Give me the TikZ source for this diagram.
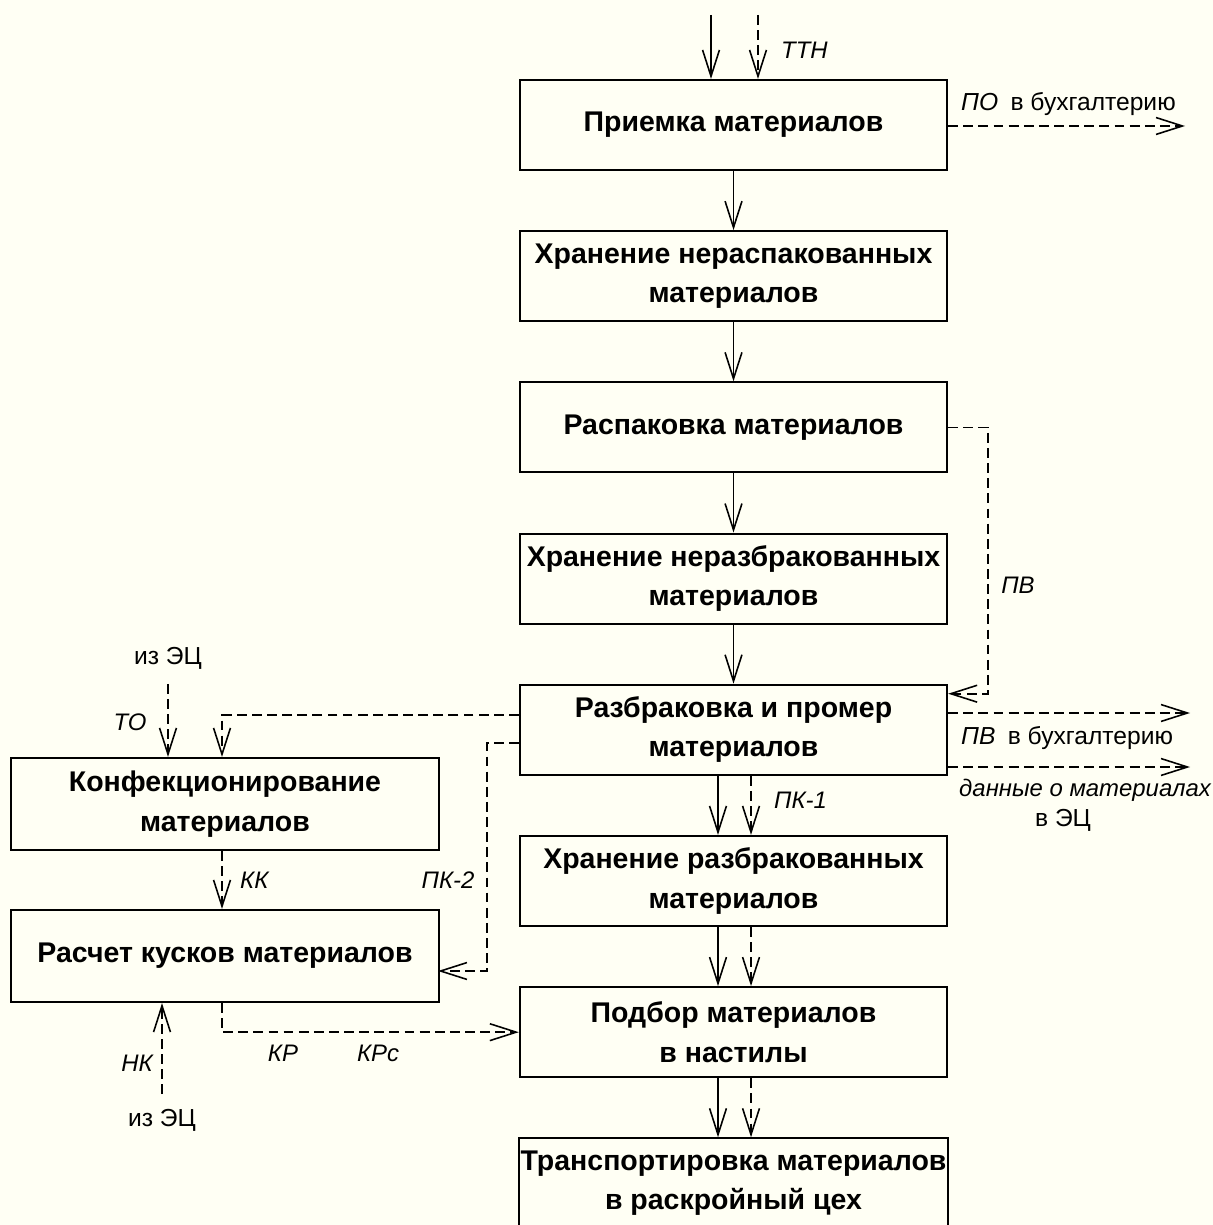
\documentclass[tikz,border=0pt]{standalone}
\usepackage{fontspec}
\setmainfont{Liberation Sans}
\usetikzlibrary{arrows.meta,positioning,calc}

\definecolor{bgcream}{RGB}{255,255,244}

\tikzset{
  proc/.style={draw,line width=0.6pt,minimum width=4.27cm,minimum height=0.9cm,
    align=center,inner sep=0.5pt,font=\fontsize{8.1}{11.2}\selectfont\bfseries},
  flow/.style={line width=0.45pt,-{Straight Barb[length=7.5pt,width=4.8pt]}},
  doc/.style={flow,dash pattern=on 2.8pt off 1.5pt},
  lbl/.style={inner sep=1pt,font=\fontsize{6.8}{8.4}\selectfont\itshape},
  txt/.style={inner sep=1pt,font=\fontsize{7}{8.4}\selectfont},
}

\begin{document}
\begin{tikzpicture}[x=0.01cm,y=-0.01cm]
  \fill[bgcream] (0,0) rectangle (1213,1225);
  \useasboundingbox (0,0) rectangle (1213,1225);
  % основная цепочка операций
  \node[proc] (priem) at (733.5,125) {Приемка материалов};
  \node[proc,below=0.59cm of priem] (hrNeraspak) {Хранение нераспакованных\\материалов};
  \node[proc,below=0.59cm of hrNeraspak] (raspak) {Распаковка материалов};
  \node[proc,below=0.59cm of raspak] (hrNerazbr) {Хранение неразбракованных\\материалов};
  \node[proc,below=0.59cm of hrNerazbr] (razbr) {Разбраковка и промер\\материалов};
  \node[proc,below=0.59cm of razbr] (hrRazbr) {Хранение разбракованных\\материалов};
  \node[proc,below=0.59cm of hrRazbr] (podbor) {Подбор материалов\\в настилы};
  \node[proc,below=0.59cm of podbor] (transp) {Транспортировка материалов\\в раскройный цех};
  % левая ветвь
  \node[proc,minimum height=0.92cm] (konf) at (225,804) {Конфекционирование\\материалов};
  \node[proc,minimum height=0.92cm] (raschet) at (225,956) {Расчет кусков материалов};

  \draw[flow] (priem) -- (hrNeraspak);
  \draw[flow] (hrNeraspak) -- (raspak);
  \draw[flow] (raspak) -- (hrNerazbr);
  \draw[flow] (hrNerazbr) -- (razbr);
  \foreach \a/\b in {razbr/hrRazbr,hrRazbr/podbor,podbor/transp}{
    \draw[flow] ([xshift=-0.155cm]\a.south) -- ([xshift=-0.155cm]\b.north);
    \draw[doc] ([xshift=0.175cm]\a.south) -- ([xshift=0.175cm]\b.north);
  }
  \node[lbl,anchor=west] (pk1) at (770,800) {ПК-1};

  % вход сверху
  \coordinate (inTop) at (711,15);
  \coordinate (ttnTop) at (758,15);
  \draw[flow] (inTop) -- (inTop |- priem.north);
  \draw[doc] (ttnTop) -- (ttnTop |- priem.north);
  \node[lbl,anchor=west] (ttn) at (777,50) {ТТН};

  % выходы вправо
  \coordinate (poEnd) at (1185,126);
  \draw[doc] (poEnd -| priem.east) -- (poEnd);
  \node[txt,anchor=west] (poBuh) at (957,104) {\textit{ПО}\enspace в бухгалтерию};

  \coordinate (pvRight) at (988,427);
  \coordinate (pvIn) at ([yshift=-0.1cm]razbr.north east);
  \draw[doc] (raspak.east) -| (pvIn -| pvRight) -- (pvIn);
  \node[lbl] (pv) at (1018,585) {ПВ};

  \coordinate (buhEnd) at (1190,713);
  \coordinate (ecEnd) at (1190,767);
  \draw[doc] (buhEnd -| razbr.east) -- (buhEnd);
  \draw[doc] (ecEnd -| razbr.east) -- (ecEnd);
  \node[txt,anchor=west] (pvBuh) at (957,738) {\textit{ПВ}\enspace в бухгалтерию};
  \node[lbl,anchor=west] (dannye) at (955,790) {данные о материалах};
  \node[txt] (vEC) at (1063,820) {в ЭЦ};

  % связи с левой ветвью
  \coordinate (toKonf) at (222,715);
  \draw[doc] (toKonf -| razbr.west) -| (konf.north -| toKonf);
  \node[txt,inner sep=4pt] (izEC) at (168,658) {из ЭЦ};
  \draw[doc] (izEC.south) -- (izEC.south |- konf.north);
  \node[lbl] (to) at (130,722) {ТО};

  \draw[doc] (konf.south -| toKonf) -- (raschet.north -| toKonf);
  \node[lbl,anchor=west] (kk) at (236,880) {КК};

  \coordinate (pk2) at (487,743);
  \coordinate (pk2In) at (438,971);
  \draw[doc] (pk2 -| razbr.west) -- (pk2) |- (pk2In);
  \node[lbl] (pk2Lbl) at (448,880) {ПК-2};

  \node[txt,inner sep=4pt] (izEC2) at (162,1120) {из ЭЦ};
  \draw[doc] (izEC2.north) -- (izEC2.north |- raschet.south);
  \node[lbl] (nk) at (137,1063) {НК};

  \draw[doc] (raschet.south -| toKonf) |- (podbor.west);
  \node[lbl] (kr) at (283,1053) {КР};
  \node[lbl] (krc) at (378,1053) {КРс};
\end{tikzpicture}
\end{document}
